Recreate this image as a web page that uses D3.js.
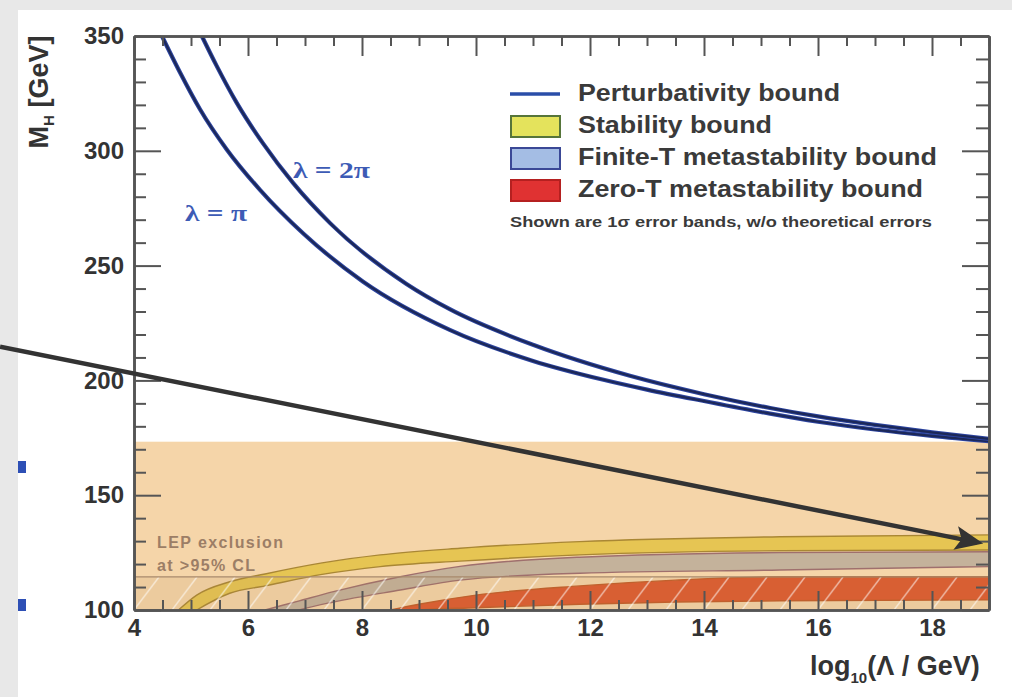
<!DOCTYPE html>
<html>
<head>
<meta charset="utf-8">
<script src="https://cdn.jsdelivr.net/npm/d3@7"></script>
<style>
  body { margin: 0; background: #e8e8e8; }
  svg { display: block; font-family: "Liberation Sans", Arial, sans-serif; }
</style>
</head>
<body>
<div id="container"></div>
<script>
/* DATA */
const xTicksMajor = [4, 6, 8, 10, 12, 14, 16, 18];
const yTicksMajor = [100, 150, 200, 250, 300, 350];

// perturbativity bound, [log10(Λ/GeV), M_H]
const lambdaPi = [[4.49,350],[4.81,334],[5.16,318],[5.63,300.5],[6.21,283],[6.97,264],[8.02,243],[9.54,222],[11,208.5],[12.2,200.5],[13,196],[14,191],[15.16,185.5],[16,182],[17,178.6],[18,175.8],[19,173.5]];
const lambda2Pi = [[5.19,350],[5.45,337],[5.8,321],[6.27,303],[6.79,286],[7.44,268.5],[8.78,242],[9.54,231],[11,215.5],[12.7,202],[14,194],[15.16,188],[16,184.3],[17,180.6],[18,177.4],[19,174.5]];

// stability bound (1 sigma band)
const stabX  = [4.78, 5.1, 5.68, 6.3, 7.3, 8.32, 9.72, 11.82, 15.33, 19];
const stabHi = [100, 106.5, 112.3, 115.7, 120.5, 124, 126.9, 129.8, 131.9, 132.7];
const stabLo = [95, 100, 107.3, 110.5, 115.5, 118.9, 121.3, 124, 125.8, 126.1];

// finite-T metastability
const finX  = [6.3, 6.9, 7.5, 8.67, 9.72, 11.82, 15.33, 19];
const finHi = [100, 104, 108, 114.5, 119, 123, 125, 125.4];
const finLo = [95, 100, 103.5, 108.7, 113, 116, 117.4, 118.9];

// zero-T metastability
const zeroX  = [8.5, 9, 10, 11.82, 13.5, 15.33, 19];
const zeroHi = [100, 102.5, 106.5, 110.5, 113, 114.5, 114.5];
const zeroLo = [98, 100, 101, 102.5, 103.5, 104, 104.4];

const lepBound = 114.4;
const shadedTop = 173.3;
const arrowFrom = [1.65, 214.7];
const arrowTo = [18.9, 129];

const legendLabels = ["Perturbativity bound", "Stability bound", "Finite-T metastability bound", "Zero-T metastability bound"];
const legendWidths = [262, 194, 359, 345];

/* SETUP */
const W = 1012, H = 697;
const svg = d3.select("#container").append("svg")
  .attr("width", W).attr("height", H);

svg.append("rect").attr("width", W).attr("height", H).attr("fill", "#e8e8e8");
svg.append("rect").attr("x", 18).attr("y", 10).attr("width", W - 18).attr("height", H - 10).attr("fill", "#fff");

const x = d3.scaleLinear().domain([4, 19]).range([134, 989]);
const y = d3.scaleLinear().domain([100, 350]).range([610, 36]);

const defs = svg.append("defs");
defs.append("clipPath").attr("id", "plotclip")
  .append("rect")
  .attr("x", x(4)).attr("y", y(350))
  .attr("width", x(19) - x(4)).attr("height", y(100) - y(350));

const hatchH = y(100) - y(lepBound);
const pat = defs.append("pattern").attr("id", "hatch")
  .attr("patternUnits", "userSpaceOnUse")
  .attr("x", x(4)).attr("y", y(lepBound))
  .attr("width", 38).attr("height", hatchH);
pat.append("line")
  .attr("x1", 0).attr("y1", hatchH).attr("x2", 25).attr("y2", 0)
  .attr("stroke", "#fff").attr("stroke-width", 1.5).attr("stroke-opacity", 0.55);

defs.append("marker").attr("id", "head")
  .attr("markerUnits", "userSpaceOnUse")
  .attr("markerWidth", 30).attr("markerHeight", 26)
  .attr("refX", 22).attr("refY", 12).attr("orient", "auto")
  .append("path").attr("d", "M0,0 L28,12 L0,24 L6,12 Z").attr("fill", "#333");

const plot = svg.append("g").attr("clip-path", "url(#plotclip)");

const area = d3.area()
  .x(d => x(d[0])).y0(d => y(d[1])).y1(d => y(d[2]))
  .curve(d3.curveMonotoneX);
const line = d3.line().x(d => x(d[0])).y(d => y(d[1])).curve(d3.curveMonotoneX);

function drawBand(xs, lo, hi, fill, edge) {
  const rows = xs.map((v, i) => [v, lo[i], hi[i]]);
  plot.append("path").attr("d", area(rows)).attr("fill", fill);
  [lo, hi].forEach(arr => {
    plot.append("path")
      .attr("d", line(xs.map((v, i) => [v, arr[i]])))
      .attr("fill", "none").attr("stroke", edge).attr("stroke-width", 1.4);
  });
}

drawBand(stabX, stabLo, stabHi, "#e2e05a", "#6e6a20");
drawBand(finX, finLo, finHi, "#a2bce4", "#5a3c8c");
drawBand(zeroX, zeroLo, zeroHi, "#d41616", "#a01808");

// LEP excluded region
plot.append("rect")
  .attr("x", x(4)).attr("y", y(shadedTop))
  .attr("width", x(19) - x(4)).attr("height", y(100) - y(shadedTop))
  .attr("fill", "rgb(234,168,75)").attr("fill-opacity", 0.48);
plot.append("rect")
  .attr("x", x(4)).attr("y", y(lepBound))
  .attr("width", x(19) - x(4)).attr("height", hatchH)
  .attr("fill", "#b08050").attr("fill-opacity", 0.12);
plot.append("rect")
  .attr("x", x(4)).attr("y", y(lepBound))
  .attr("width", x(19) - x(4)).attr("height", hatchH)
  .attr("fill", "url(#hatch)");
plot.append("line")
  .attr("x1", x(4)).attr("x2", x(19)).attr("y1", y(lepBound)).attr("y2", y(lepBound))
  .attr("stroke", "#a88a6c").attr("stroke-width", 1.2);

// perturbativity curves
[lambdaPi, lambda2Pi].forEach(c => {
  plot.append("path").attr("d", line(c))
    .attr("fill", "none").attr("stroke", "#2c44a0").attr("stroke-width", 4.2);
  plot.append("path").attr("d", line(c))
    .attr("fill", "none").attr("stroke", "#1c2858").attr("stroke-width", 2.2);
});

svg.append("text").attr("x", x(4) + 23).attr("y", y(100) - 62)
  .attr("font-size", 16).attr("font-weight", "bold").attr("fill", "#9c7e66")
  .attr("textLength", 126).text("LEP exclusion");
svg.append("text").attr("x", x(4) + 23).attr("y", y(100) - 39)
  .attr("font-size", 16).attr("font-weight", "bold").attr("fill", "#9c7e66")
  .attr("textLength", 98).text("at >95% CL");

/* AXES */
const minorX = d3.range(4, 19.01, 0.5).filter(v => v % 2 !== 0);
const minorY = d3.range(100, 351, 10).filter(v => v % 50 !== 0);

function styleAxis(g, labels) {
  g.select(".domain").attr("stroke", "#555").attr("stroke-width", 2.6);
  g.selectAll(".tick line").attr("stroke", "#555").attr("stroke-width", 2);
  g.selectAll(".tick text")
    .attr("font-size", 24).attr("font-weight", "bold").attr("fill", "#333")
    .attr("font-family", "Liberation Sans, Arial, sans-serif")
    .style("display", labels ? null : "none");
}

svg.append("g").attr("transform", `translate(0,${y(100)})`)
  .call(d3.axisBottom(x).tickValues(minorX).tickSize(-10).tickSizeOuter(0).tickFormat(""))
  .call(g => styleAxis(g, false));
svg.append("g").attr("transform", `translate(0,${y(100)})`)
  .call(d3.axisBottom(x).tickValues(xTicksMajor).tickSize(-19).tickSizeOuter(0).tickPadding(9))
  .call(g => styleAxis(g, true));
svg.append("g").attr("transform", `translate(0,${y(350)})`)
  .call(d3.axisTop(x).tickValues(minorX).tickSize(-10).tickSizeOuter(0).tickFormat(""))
  .call(g => styleAxis(g, false));
svg.append("g").attr("transform", `translate(0,${y(350)})`)
  .call(d3.axisTop(x).tickValues(xTicksMajor).tickSize(-20).tickSizeOuter(0).tickFormat(""))
  .call(g => styleAxis(g, false));

svg.append("g").attr("transform", `translate(${x(4)},0)`)
  .call(d3.axisLeft(y).tickValues(minorY).tickSize(-12).tickSizeOuter(0).tickFormat(""))
  .call(g => styleAxis(g, false));
svg.append("g").attr("transform", `translate(${x(4)},0)`)
  .call(d3.axisLeft(y).tickValues(yTicksMajor).tickSize(-27).tickSizeOuter(0).tickPadding(10))
  .call(g => styleAxis(g, true));
svg.append("g").attr("transform", `translate(${x(19)},0)`)
  .call(d3.axisRight(y).tickValues(minorY).tickSize(-13).tickSizeOuter(0).tickFormat(""))
  .call(g => styleAxis(g, false));
svg.append("g").attr("transform", `translate(${x(19)},0)`)
  .call(d3.axisRight(y).tickValues(yTicksMajor).tickSize(-27).tickSizeOuter(0).tickFormat(""))
  .call(g => styleAxis(g, false));

// axis titles
const xt = svg.append("text").attr("x", 810).attr("y", 675)
  .attr("font-size", 27).attr("font-weight", "bold").attr("fill", "#333");
xt.append("tspan").text("log");
xt.append("tspan").attr("font-size", 15).attr("dy", 8).text("10");
xt.append("tspan").attr("dy", -8).text("(Λ / GeV)");

const yt = svg.append("text").attr("transform", "translate(48,92) rotate(-90)")
  .attr("text-anchor", "middle")
  .attr("font-size", 27).attr("font-weight", "bold").attr("fill", "#333");
yt.append("tspan").text("M");
yt.append("tspan").attr("font-size", 15).attr("dy", 6).text("H");
yt.append("tspan").attr("dy", -6).text(" [GeV]");

/* LAMBDA LABELS */
svg.append("text").attr("x", 293).attr("y", 178)
  .attr("font-family", "Liberation Serif, serif").attr("font-size", 24)
  .attr("font-weight", "bold").attr("fill", "#3d5bb5")
  .attr("textLength", 77).attr("lengthAdjust", "spacingAndGlyphs").text("λ = 2π");
svg.append("text").attr("x", 185).attr("y", 221)
  .attr("font-family", "Liberation Serif, serif").attr("font-size", 24)
  .attr("font-weight", "bold").attr("fill", "#3d5bb5")
  .attr("textLength", 62).attr("lengthAdjust", "spacingAndGlyphs").text("λ = π");

/* LEGEND */
const leg = svg.append("g").attr("transform", "translate(510,101)");
const legFills = [null, "#e4e35c", "#a4bde4", "#e03232"];
const legEdges = ["#2a4ea8", "#56753a", "#3a4896", "#b52020"];
legendLabels.forEach((lab, i) => {
  const gy = i * 32;
  if (i === 0) {
    leg.append("line").attr("x1", 0).attr("x2", 50).attr("y1", gy - 7).attr("y2", gy - 7)
      .attr("stroke", legEdges[0]).attr("stroke-width", 3.5);
  } else {
    leg.append("rect").attr("x", 1).attr("y", gy - 17).attr("width", 49).attr("height", 21)
      .attr("fill", legFills[i]).attr("stroke", legEdges[i]).attr("stroke-width", 2);
  }
  leg.append("text").attr("x", 68).attr("y", gy)
    .attr("font-size", 24).attr("font-weight", "bold").attr("fill", "#3a3a3a")
    .attr("textLength", legendWidths[i]).attr("lengthAdjust", "spacingAndGlyphs")
    .text(lab);
});
leg.append("text").attr("x", 0).attr("y", 126)
  .attr("font-size", 14).attr("font-weight", "bold").attr("fill", "#3a3a3a")
  .attr("textLength", 422).attr("lengthAdjust", "spacingAndGlyphs")
  .text("Shown are 1σ error bands, w/o theoretical errors");

/* ARROW */
svg.append("line")
  .attr("x1", x(arrowFrom[0])).attr("y1", y(arrowFrom[1]))
  .attr("x2", x(arrowTo[0]) - 6).attr("y2", y(arrowTo[1]) - 1)
  .attr("stroke", "#333").attr("stroke-width", 4.5)
  .attr("marker-end", "url(#head)");

/* slide bullets */
svg.append("rect").attr("x", 18).attr("y", 461).attr("width", 8).attr("height", 12).attr("fill", "#2d4fb5");
svg.append("rect").attr("x", 18).attr("y", 599).attr("width", 8).attr("height", 12).attr("fill", "#2d4fb5");
</script>
</body>
</html>
